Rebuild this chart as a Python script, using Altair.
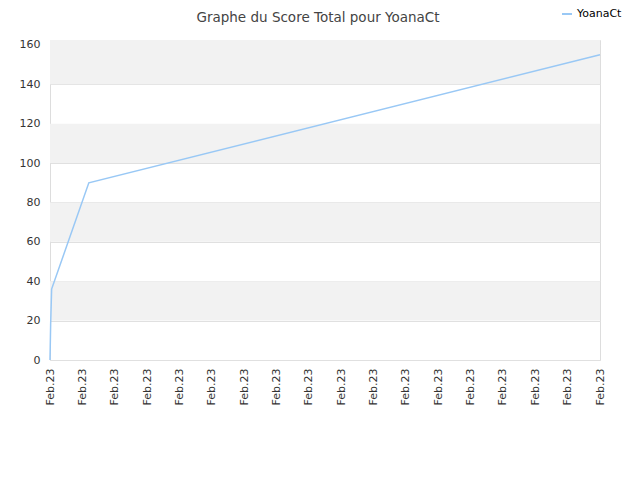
import altair as alt
import pandas as pd

# data
x_pos = [0, 0.02, 0.05, 1.2, 17]
scores = [0, 18, 36, 90, 155]
tick_positions = list(range(18))
tick_label = "Feb.23"
y_ticks = [0, 20, 40, 60, 80, 100, 120, 140, 160]
band_lo = [20, 60, 100, 140]
band_hi = [40, 80, 120, 162.5]
series_name = "YoanaCt"

line_df = pd.DataFrame({"x": x_pos, "score": scores, "serie": series_name})
band_df = pd.DataFrame({"lo": band_lo, "hi": band_hi})

xscale = alt.Scale(domain=[0, 17], nice=False, zero=False)
yscale = alt.Scale(domain=[0, 162.5], nice=False)

y_axis = alt.Axis(values=y_ticks, ticks=False, domain=False, grid=True, gridColor="#e0e0e0",
                  labelPadding=10, labelFontSize=11, labelColor="#333333",
                  labelFont="DejaVu Sans")

bands = alt.Chart(band_df).mark_rect(color="#f2f2f2").encode(
    y=alt.Y("lo:Q", scale=yscale, axis=y_axis, title=None),
    y2="hi:Q",
)

line = alt.Chart(line_df).mark_line(strokeWidth=1.5).encode(
    x=alt.X("x:Q", scale=xscale, title=None,
            axis=alt.Axis(values=tick_positions, labelExpr=f"'{tick_label}'",
                          labelAngle=-90, labelAlign="right", labelBaseline="middle",
                          ticks=False, domain=False, grid=False, labelPadding=8,
                          labelFontSize=11, labelColor="#333333", labelFont="DejaVu Sans")),
    y=alt.Y("score:Q", scale=yscale, title=None, axis=y_axis),
    color=alt.Color("serie:N", scale=alt.Scale(range=["#99c8f5"]), title=None,
                    legend=alt.Legend(orient="none", legendX=511, legendY=-32,
                                      symbolType="stroke", symbolSize=100, symbolStrokeWidth=2,
                                      labelFontSize=11, labelFont="DejaVu Sans",
                                      labelColor="#000000")),
)

chart = alt.layer(bands, line).properties(
    width=550,
    height=320,
    autosize=alt.AutoSizeParams(type="none"),
    padding={"left": 42, "top": 32, "right": 32, "bottom": 112},
    title=alt.Title("Graphe du Score Total pour YoanaCt", fontSize=13.5, fontWeight="normal",
                    font="DejaVu Sans", color="#444444", anchor="middle", dx=-7, offset=-16),
).configure_view(stroke="#d8d8d8").configure(background="white")

chart.save("out.html", embed_options={"renderer": "svg", "actions": False})
